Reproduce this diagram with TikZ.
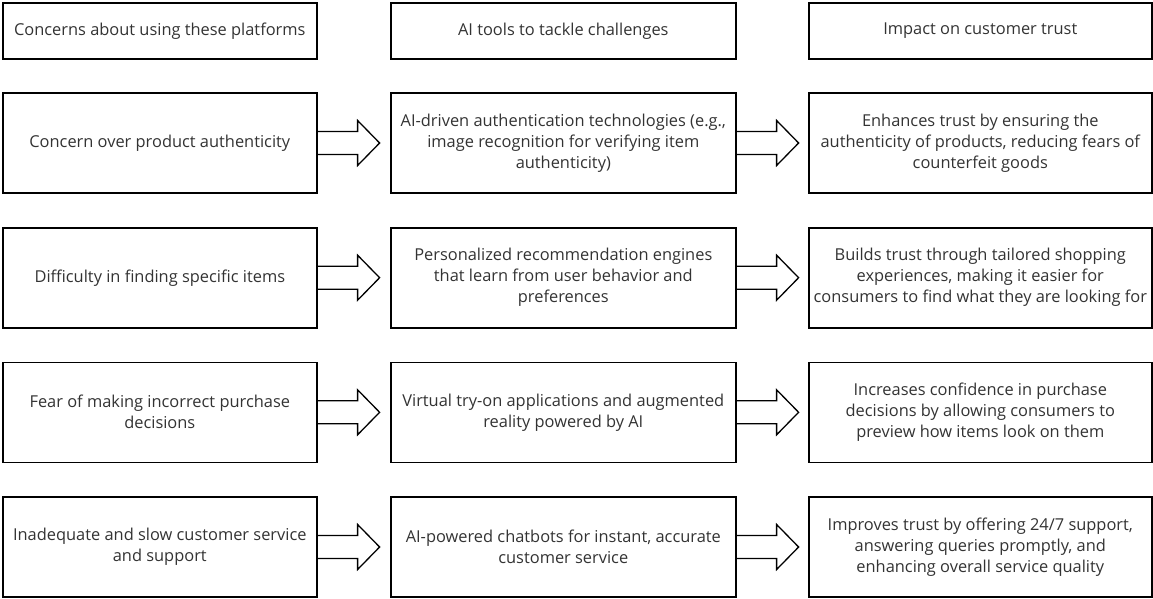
\documentclass[tikz,border=0pt]{standalone}
\usepackage{fontspec}
\setmainfont{Open Sans}
\usetikzlibrary{calc}
\definecolor{txt}{HTML}{333333}
\tikzset{
  box/.style={draw=black, line width=1.6pt, minimum height=100pt, align=center, inner sep=0pt,
    font=\fontsize{16.4}{21}\selectfont, text=txt, anchor=west},
  head/.style={box, minimum height=56pt},
  blockarrow/.style={draw=black, line width=1.3pt, line join=miter},
}
\begin{document}
\begin{tikzpicture}[x=1pt,y=-1pt]
\useasboundingbox (0,0) rectangle (1153,599);
% headers
\node[head, minimum width=314pt] (h1) at (2,31) {Concerns about using these platforms};
\node[head, minimum width=345pt] (h2) at (390,31) {AI tools to tackle challenges};
\node[head, minimum width=343pt] (h3) at (808,31) {Impact on customer trust};
% row 1
\node[box, minimum width=314pt] (a1) at (2,143) {Concern over product authenticity};
\node[box, minimum width=345pt] (b1) at (390,143) {AI-driven authentication technologies (e.g.,\\ image recognition for verifying item\\ authenticity)};
\node[box, minimum width=343pt] (c1) at (808,143) {Enhances trust by ensuring the\\ authenticity of products, reducing fears of\\ counterfeit goods};
% row 2
\node[box, minimum width=314pt] (a2) at (2,277.7) {Difficulty in finding specific items};
\node[box, minimum width=345pt] (b2) at (390,277.7) {Personalized recommendation engines\\ that learn from user behavior and\\ preferences};
\node[box, minimum width=343pt] (c2) at (808,277.7) {Builds trust through tailored shopping\\ experiences, making it easier for\\ consumers to find what they are looking for};
% row 3
\node[box, minimum width=314pt] (a3) at (2,412.3) {Fear of making incorrect purchase\\ decisions};
\node[box, minimum width=345pt] (b3) at (390,412.3) {Virtual try-on applications and augmented\\ reality powered by AI};
\node[box, minimum width=343pt] (c3) at (808,412.3) {Increases confidence in purchase\\ decisions by allowing consumers to\\ preview how items look on them};
% row 4
\node[box, minimum width=314pt] (a4) at (2,547) {Inadequate and slow customer service\\ and support};
\node[box, minimum width=345pt] (b4) at (390,547) {AI-powered chatbots for instant, accurate\\ customer service};
\node[box, minimum width=343pt] (c4) at (808,547) {Improves trust by offering 24/7 support,\\ answering queries promptly, and\\ enhancing overall service quality};
% block arrows
\foreach \s/\t in {a1/b1,b1/c1,a2/b2,b2/c2,a3/b3,b3/c3,a4/b4,b4/c4}{
  \draw[blockarrow] ($(\s.east)+(0,-11.5)$) -- ++(40,0) -- ++(0,-11) -- ($(\s.east)+(62,0)$)
    -- ($(\s.east)+(40,22.5)$) -- ++(0,-11) -- ($(\s.east)+(0,11.5)$);
}
\end{tikzpicture}
\end{document}
